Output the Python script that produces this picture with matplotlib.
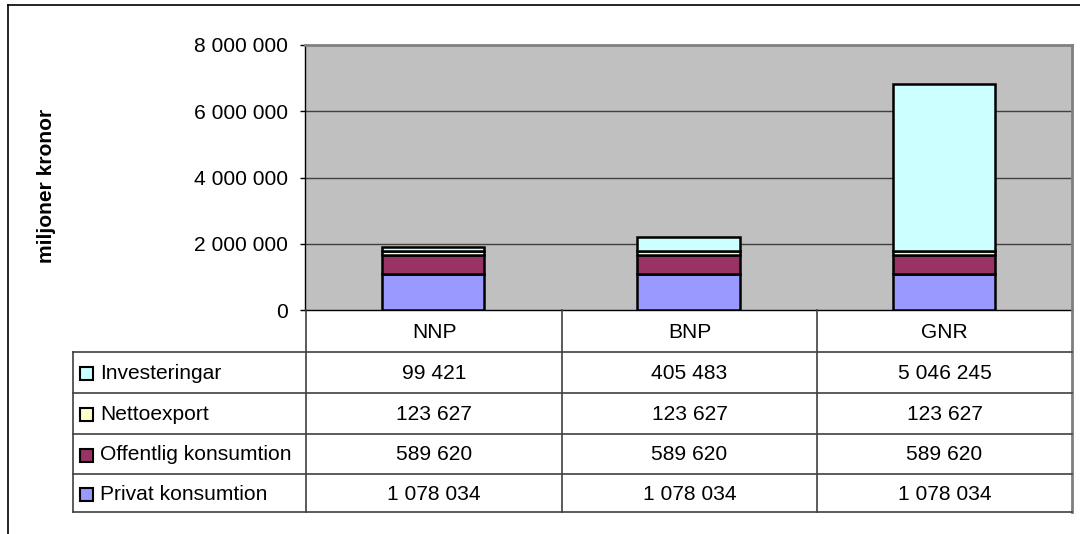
import matplotlib
matplotlib.use("Agg")
import matplotlib.pyplot as plt
from matplotlib.patches import Rectangle
from matplotlib.ticker import FuncFormatter

plt.rcParams['font.family'] = ['Liberation Sans', 'DejaVu Sans']

# Data
categories = ["NNP", "BNP", "GNR"]
series_names = ["Privat konsumtion", "Offentlig konsumtion", "Nettoexport", "Investeringar"]
privat = [1078034, 1078034, 1078034]
offentlig = [589620, 589620, 589620]
netto = [123627, 123627, 123627]
invest = [99421, 405483, 5046245]
series_values = [privat, offentlig, netto, invest]
series_colors = ["#9999FF", "#993366", "#FFFFCC", "#CCFFFF"]
y_ticks = [0, 2000000, 4000000, 6000000, 8000000]
y_label = "miljoner kronor"

W, H = 1080, 534
DPI = 100
FS = 15.1


def fmt_num(v):
    return f"{int(v):,}".replace(",", " ")


fig = plt.figure(figsize=(W / DPI, H / DPI), dpi=DPI)

# Plot area in pixel coordinates
pl, pr, pt, pb = 305, 1072, 45, 310
ax = fig.add_axes([pl / W, 1 - pb / H, (pr - pl) / W, (pb - pt) / H])
ax.set_facecolor("#C0C0C0")
ax.set_xlim(-0.5, len(categories) - 0.5)
ax.set_ylim(0, 8000000)
ax.set_yticks(y_ticks)
ax.yaxis.set_major_formatter(FuncFormatter(lambda v, p: fmt_num(v)))
ax.tick_params(axis='y', direction='out', length=3.6, width=1, labelsize=FS, pad=8.5, color='black')
ax.set_xticks([])
for v in y_ticks[1:-1]:
    ax.axhline(v, color="#404040", lw=1.0, zorder=1)
ax.spines['left'].set_color('black')
ax.spines['left'].set_linewidth(1.0)
ax.spines['bottom'].set_color('black')
ax.spines['bottom'].set_linewidth(1.0)
for s in ('top', 'right'):
    ax.spines[s].set_color('#808080')
    ax.spines[s].set_linewidth(2.0)

x = list(range(len(categories)))
bottom = [0] * len(categories)
for vals, col in zip(series_values, series_colors):
    ax.bar(x, vals, bottom=bottom, width=0.4, color=col, edgecolor='black',
           linewidth=1.8, zorder=3)
    bottom = [b + v for b, v in zip(bottom, vals)]

# Overlay in pixel coordinates for the frame
ov = fig.add_axes([0, 0, 1, 1], zorder=-1)
ov.set_xlim(0, W)
ov.set_ylim(H, 0)
ov.axis('off')
ov.patch.set_alpha(0)

ov.plot([8, W], [5, 5], color='black', lw=1.2)
ov.plot([8, 8], [5, H], color='black', lw=1.2)

# Data table
col_edges = [306, 562, 817, 1072]
leg_left = 73
row_edges = [352, 393, 434, 474, 512]
line_col = "#404040"

ov2 = fig.add_axes([0, 0, 1, 1], zorder=5)
ov2.set_xlim(0, W)
ov2.set_ylim(H, 0)
ov2.axis('off')
ov2.patch.set_alpha(0)

for xe in col_edges[:-1]:
    ov2.plot([xe, xe], [pb, row_edges[-1]], color=line_col, lw=1.2)
ov2.plot([col_edges[-1], col_edges[-1]], [pb, row_edges[-1]], color="#808080", lw=2.0)
for ye in row_edges:
    ov2.plot([leg_left, col_edges[-1]], [ye, ye], color=line_col, lw=1.2)
ov2.plot([leg_left, leg_left], [row_edges[0], row_edges[-1]], color=line_col, lw=1.2)

# Category header row
for i, cat in enumerate(categories):
    cx = (col_edges[i] + col_edges[i + 1]) / 2
    ov2.text(cx, (pb + row_edges[0]) / 2 + 1, cat, ha='center', va='center', fontsize=FS)

# Rows: top row is the top series of the stack
table_order = list(range(len(series_names)))[::-1]
for r, si in enumerate(table_order):
    cy = (row_edges[r] + row_edges[r + 1]) / 2 + 1
    ov2.add_patch(Rectangle((80, cy - 6.5), 13, 13, facecolor=series_colors[si],
                            edgecolor='black', lw=1.5))
    ov2.text(100, cy, series_names[si], ha='left', va='center', fontsize=FS)
    for i in range(len(categories)):
        cx = (col_edges[i] + col_edges[i + 1]) / 2
        ov2.text(cx, cy, fmt_num(series_values[si][i]), ha='center', va='center', fontsize=FS)

# Axis title
fig.text(47 / W, 1 - 186 / H, y_label, rotation=90, ha='center', va='center',
         fontsize=FS, fontweight='bold')

fig.savefig("out.png", dpi=DPI)
